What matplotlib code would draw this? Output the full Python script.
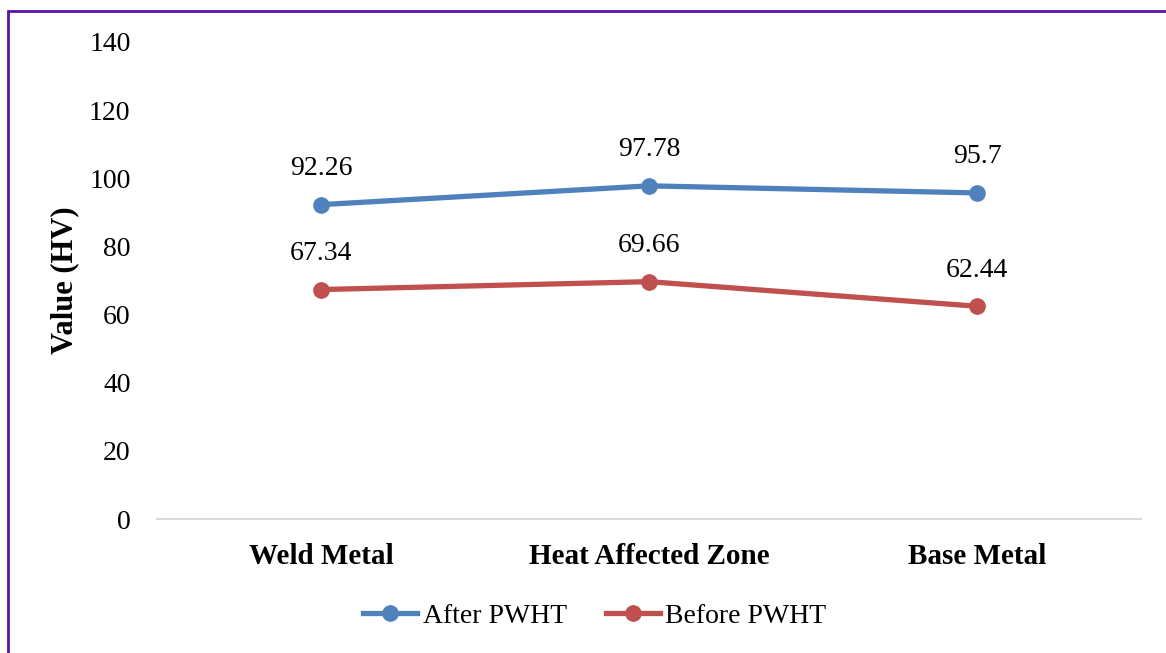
import matplotlib.pyplot as plt
from matplotlib.patches import Rectangle

# hardness data
categories = ['Weld Metal', 'Heat Affected Zone', 'Base Metal']
after_pwht = [92.26, 97.78, 95.7]
before_pwht = [67.34, 69.66, 62.44]
yticks = [0, 20, 40, 60, 80, 100, 120, 140]

plt.rcParams['font.family'] = ['Liberation Serif', 'DejaVu Serif']

fig = plt.figure(figsize=(11.66, 6.53), dpi=100)
ax = fig.add_axes([0.1346, 0.2052, 0.844, 0.7305])

x = range(len(categories))
ax.plot(x, after_pwht, color='#4F81BD', lw=3.8, marker='o', ms=11, label='After PWHT')
ax.plot(x, before_pwht, color='#C0504D', lw=3.8, marker='o', ms=11, label='Before PWHT')

for xi, v in zip(x, after_pwht):
    ax.annotate(f'{v:g}', (xi, v), xytext=(0, 17), textcoords='offset points',
                ha='center', va='bottom', fontsize=20)
for xi, v in zip(x, before_pwht):
    ax.annotate(f'{v:g}', (xi, v), xytext=(0, 17), textcoords='offset points',
                ha='center', va='bottom', fontsize=20)

ax.set_xlim(-0.5, 2.5)
ax.set_ylim(0, 140)
ax.set_yticks(yticks)
ax.set_xticks(list(x))
ax.set_xticklabels(categories, fontweight='bold', fontsize=21)
ax.tick_params(axis='y', labelsize=20, length=0, pad=19)
ax.tick_params(axis='x', length=0, pad=17)
for s in ['top', 'right', 'left']:
    ax.spines[s].set_visible(False)
ax.spines['bottom'].set_color('#D9D9D9')
ax.spines['bottom'].set_linewidth(1.5)
ax.set_ylabel('Value (HV)', fontweight='bold', fontsize=22, labelpad=7)

fig.legend(loc='center', bbox_to_anchor=(0.51, 0.056), ncol=2, frameon=False,
           fontsize=20, handlelength=1.95, handletextpad=0.2, columnspacing=1.4)

# purple outline around the chart (cut off at right/bottom)
fig.patches.append(Rectangle((8 / 1166, -0.1), 1.2, 1 - 11 / 653 + 0.1,
                             transform=fig.transFigure, fill=False,
                             edgecolor='#5A14A8', lw=2))

fig.savefig('out.png', dpi=100)
